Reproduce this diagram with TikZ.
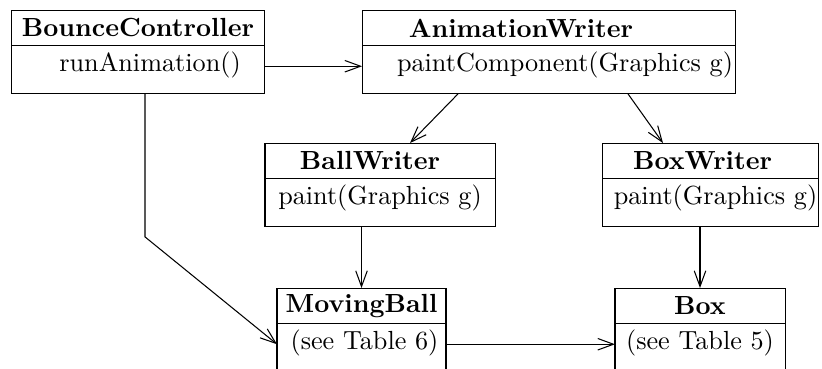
\documentclass[tikz,border=0pt]{standalone}
\usepackage{tikz}
\usetikzlibrary{arrows.meta,positioning}

\begin{document}
\begin{tikzpicture}[x=0.3817pt,y=-0.3817pt,>={Straight Barb[length=6pt,width=4.4pt]},
  cname/.style={draw,inner sep=0pt,outer sep=0pt,minimum height=13.7pt,font=\bfseries},
  cmeth/.style={draw,inner sep=0pt,outer sep=0pt,minimum height=18.3pt,text height=9.9pt,text depth=8.4pt},
  link/.style={->,thin}]
\useasboundingbox (0,0) rectangle (822,368);
% classes
\node[cname,minimum width=96.9pt] (bc) at (138,28) {BounceController};
\node[cmeth,minimum width=96.9pt,below=0pt of bc] (bcm) {\hspace*{9.2pt}runAnimation()};
\node[cname,minimum width=142.7pt] (aw) at (549,28) {AnimationWriter\hspace*{21.4pt}};
\node[cmeth,minimum width=142.7pt,below=0pt of aw] (awm) {\hspace*{12.2pt}paintComponent(Graphics g)};
\node[cname,minimum width=87.8pt] (ballw) at (380,161) {BallWriter\hspace*{7.6pt}};
\node[cmeth,minimum width=87.8pt,below=0pt of ballw] (ballwm) {paint(Graphics g)};
\node[cname,minimum width=82.1pt] (boxw) at (710.5,161) {BoxWriter\hspace*{6.1pt}};
\node[cmeth,minimum width=82.1pt,below=0pt of boxw] (boxwm) {\hspace*{3.8pt}paint(Graphics g)};
\node[cname,minimum width=64.5pt] (mb) at (361.5,306) {MovingBall};
\node[cmeth,minimum width=64.5pt,below=0pt of mb] (mbm) {\hspace*{2.3pt}(see Table 6)};
\node[cname,minimum width=64.9pt] (box) at (700,306) {Box};
\node[cmeth,minimum width=64.9pt,below=0pt of box] (boxm) {(see Table 5)};
% associations
\draw[link] (bcm.mid east) -- (awm.mid west);
\draw[link] ([shift={(-91,0)}]awm.south) -- ([shift={(30,0)}]ballw.north);
\draw[link] ([shift={(79,0)}]awm.south) -- ([shift={(-47.5,0)}]boxw.north);
\draw[link] ([shift={(7,0)}]bcm.south) -- ++(0,143) -- (mbm.mid west);
\draw[link] (ballwm.south -| mb.north) -- (mb.north);
\draw[link] (boxwm.south -| box.north) -- (box.north);
\draw[link] (mbm.mid east) -- (boxm.mid west);
\end{tikzpicture}
\end{document}
